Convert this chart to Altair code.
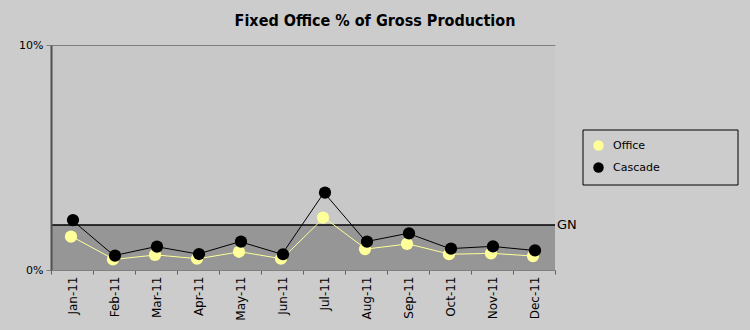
import altair as alt
import pandas as pd

months = ["Jan-11", "Feb-11", "Mar-11", "Apr-11", "May-11", "Jun-11",
          "Jul-11", "Aug-11", "Sep-11", "Oct-11", "Nov-11", "Dec-11"]
office = [1.48, 0.47, 0.67, 0.50, 0.81, 0.50, 2.33, 0.93, 1.16, 0.70, 0.74, 0.62]
cascade = [2.22, 0.64, 1.04, 0.71, 1.26, 0.70, 3.44, 1.26, 1.63, 0.95, 1.05, 0.87]
series_names = ["Office", "Cascade"]
gn_value = 2.0
gn_label = "GN"
y_max = 10
y_ticks = [0, 10]
title_text = "Fixed Office % of Gross Production"

FONT = "DejaVu Sans"

df = pd.DataFrame({
    "month": months * 2,
    "value": office + cascade,
    "series": [series_names[0]] * len(months) + [series_names[1]] * len(months),
})
bands = pd.DataFrame({"lo": [0, gn_value], "hi": [gn_value, y_max]})
gn_df = pd.DataFrame({"v": [gn_value], "label": [gn_label]})

yscale = alt.Scale(domain=[0, y_max], nice=False, zero=True)
xenc = alt.X("month:N", sort=months, title=None,
             scale=alt.Scale(paddingInner=0, paddingOuter=0),
             axis=alt.Axis(labelAngle=-90, labelFont=FONT, labelFontSize=12,
                           labelColor="black", tickBand="extent", tickSize=4,
                           tickColor="#606060", domainColor="#808080",
                           labelPadding=2, grid=False))
color = alt.Color("series:N", sort=series_names,
                  scale=alt.Scale(domain=series_names, range=["#ffff99", "#000000"]),
                  legend=alt.Legend(
                      title=None, orient="none", legendX=532, legendY=85,
                      padding=10,
                      symbolType="circle", symbolSize=110, symbolStrokeWidth=0,
                      labelFont=FONT, labelFontSize=11, labelColor="black",
                      labelOffset=9, rowPadding=10))

base_bands = alt.Chart(bands)
low_band = base_bands.transform_filter("datum.lo == 0").mark_rect(color="#969696").encode(
    x=alt.value(0), x2=alt.value("width"),
    y=alt.Y("lo:Q", scale=yscale, title=None,
            axis=alt.Axis(values=y_ticks, labelExpr="datum.value + '%'",
                          labelFont=FONT, labelFontSize=11, labelColor="black",
                          tickSize=5, tickColor="#808080", domainColor="#505050",
                          domainWidth=2, grid=True, gridColor="#808080",
                          zindex=1, labelPadding=3)),
    y2="hi:Q")
high_band = base_bands.transform_filter("datum.lo > 0").mark_rect(color="#c8c8c8").encode(
    x=alt.value(0), x2=alt.value("width"),
    y=alt.Y("lo:Q", scale=yscale), y2="hi:Q")

gn_rule = alt.Chart(gn_df).mark_rule(color="black", strokeWidth=1.5).encode(
    x=alt.value(0), x2=alt.value("width"), y=alt.Y("v:Q", scale=yscale))
gn_text = alt.Chart(gn_df).mark_text(align="left", baseline="middle", font=FONT,
                                     fontSize=13, color="black", dx=2).encode(
    x=alt.value("width"), y=alt.Y("v:Q", scale=yscale), text="label:N")

# frame around the legend
legend_frame = alt.Chart(gn_df).mark_rect(fill=None, stroke="black", strokeWidth=1).encode(
    x=alt.value(532), x2=alt.value(687), y=alt.value(85), y2=alt.value(140))

base = alt.Chart(df)
lines = base.mark_line(strokeWidth=1).encode(
    x=xenc, y=alt.Y("value:Q", scale=yscale), color=color,
    order=alt.Order("series:N"))
pts_office = base.transform_filter(f"datum.series == '{series_names[0]}'").mark_circle(
    size=150, opacity=1, xOffset=-1).encode(
    x=xenc, y=alt.Y("value:Q", scale=yscale), color=color)
pts_cascade = base.transform_filter(f"datum.series == '{series_names[1]}'").mark_circle(
    size=150, opacity=1, xOffset=1).encode(
    x=xenc, y=alt.Y("value:Q", scale=yscale), color=color)

chart = alt.layer(low_band, high_band, gn_rule, lines, pts_office, pts_cascade, gn_text,
                  legend_frame).properties(
    width=504, height=225,
    padding={"left": 51, "top": 45, "right": 195, "bottom": 60},
    autosize=alt.AutoSizeParams(type="none"),
    title=alt.TitleParams(title_text, font="DejaVu Sans Condensed", fontSize=16,
                          fontWeight="bold", color="black", anchor="middle",
                          dx=72, offset=10),
).configure(background="#cccccc").configure_view(stroke=None)

chart.save("out.html", embed_options={"renderer": "svg", "actions": False})
